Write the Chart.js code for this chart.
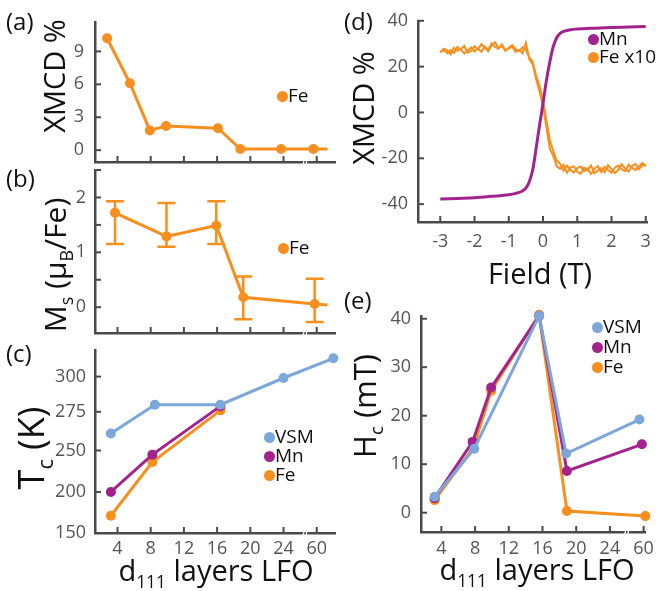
<!DOCTYPE html>
<html>
<head>
<meta charset="utf-8">
<script src="https://cdn.jsdelivr.net/npm/chart.js@4.4.0/dist/chart.umd.min.js"></script>
<style>
  body { margin: 0; background: #fff; }
  #fig { position: relative; width: 660px; height: 591px; overflow: hidden; font-family: "Open Sans", sans-serif; color: #111; }
  #fig canvas { position: absolute; left: 0; top: 0; }
  .lbl { position: absolute; font-size: 24px; line-height: 1; }
  .ytit { position: absolute; white-space: nowrap; line-height: 1; transform: translate(-50%, -50%) rotate(-90deg); }
  .xtit { position: absolute; white-space: nowrap; line-height: 1; font-size: 29px; transform: translate(-50%, 0); }
  sub { font-size: 60%; vertical-align: -0.4em; line-height: 0; }
  .dot { position: absolute; width: 11px; height: 11px; border-radius: 50%; }
  .leg { position: absolute; font-size: 19px; line-height: 1; white-space: nowrap; }
</style>
</head>
<body>
<div id="fig">
  <canvas id="cA" width="660" height="591"></canvas>
  <canvas id="cB" width="660" height="591"></canvas>
  <canvas id="cC" width="660" height="591"></canvas>
  <canvas id="cD" width="660" height="591"></canvas>
  <canvas id="cE" width="660" height="591"></canvas>

  <div class="lbl" style="left:6px;top:9px">(a)</div>
  <div class="lbl" style="left:6px;top:166px">(b)</div>
  <div class="lbl" style="left:6px;top:341px">(c)</div>
  <div class="lbl" style="left:344px;top:9px">(d)</div>
  <div class="lbl" style="left:344px;top:288px">(e)</div>

  <div class="ytit" style="left:53px;top:76px;font-size:29px">XMCD %</div>
  <div class="ytit" style="left:55px;top:265px;font-size:30px">M<sub>s</sub> (μ<sub>B</sub>/Fe)</div>
  <div class="ytit" style="left:31px;top:448px;font-size:36px">T<sub>c</sub> (K)</div>
  <div class="ytit" style="left:362px;top:108px;font-size:29px">XMCD %</div>
  <div class="ytit" style="left:364px;top:406px;font-size:31px">H<sub>c</sub> (mT)</div>

  <div class="xtit" style="left:216px;top:555px">d<sub>111</sub> layers LFO</div>
  <div class="xtit" style="left:540px;top:258px">Field (T)</div>
  <div class="xtit" style="left:537px;top:554px">d<sub>111</sub> layers LFO</div>
</div>

<script>
// ---------- dados ----------
const corFe = "#F78F1E";
const corMn = "#A3238E";
const corVsm = "#7BA7D9";
const corEixo = "#4a4a4a";
const corTick = "#555555";

// eixo de camadas (quebrado entre 24 e 60)
const camadasTicks = [4, 8, 12, 16, 20, 24, 28];
const camadasLabels = ["4", "8", "12", "16", "20", "24", "60"];

// (a) XMCD Fe
const layersA = [2.75, 5.5, 7.9, 9.85, 16.1, 18.8, 23.7, 27.6, 29.3];
const xmcdFe = [10.2, 6.1, 1.8, 2.2, 2.0, 0.1, 0.1, 0.1, 0.1];

// (b) Ms Fe com barras de erro
const layersB = [3.7, 9.9, 15.9, 19.15, 27.75, 29.3];
const msFe = [1.72, 1.29, 1.49, 0.18, 0.06, 0.04];
const msHi = [1.93, 1.9, 1.93, 0.56, 0.52];
const msLo = [1.15, 1.1, 1.15, -0.22, -0.27];

// (c) Tc
const tcTicks = [150, 200, 250, 275, 300];
const tcTickPos = [0, 1.05, 2.11, 3.1, 4];
const layersTcVsm = [3.2, 8.5, 16.4, 24.0, 30.0];
const tcVsm = [261, 280, 280, 299, 313];
const layersTcEl = [3.2, 8.2, 16.4];
const tcMn = [200, 245, 279];
const tcFe = [171, 236, 276];

// (d) lacos XMCD vs campo
const campoMn = [-3.0, -2.5, -2.0, -1.5, -1.0, -0.8, -0.6, -0.5, -0.4, -0.3, -0.2, -0.1, 0, 0.1, 0.2, 0.3, 0.4, 0.5, 0.6, 0.8, 1.0, 1.5, 2.0, 2.5, 3.0];
const xmcdMn = [-37.8, -37.5, -37.2, -36.6, -35.9, -35.3, -34.3, -33.0, -30.2, -25.0, -15.5, -5.5, 4.0, 14.0, 22.2, 28.8, 32.6, 34.5, 35.4, 36.1, 36.4, 36.8, 37.1, 37.3, 37.5];

const campoSubida = [-3.0, -2.9, -2.8, -2.7, -2.6, -2.5, -2.4, -2.3, -2.2, -2.1, -2.0, -1.9, -1.8, -1.7, -1.6, -1.5, -1.4, -1.3, -1.2, -1.1, -1.0, -0.9, -0.8, -0.7, -0.6, -0.5, -0.4, -0.3, -0.2, -0.1, 0.0, 0.1, 0.2, 0.3, 0.4, 0.5, 0.6, 0.7, 0.8, 0.9, 1.0, 1.1, 1.2, 1.3, 1.4, 1.5, 1.6, 1.7, 1.8, 1.9, 2.0, 2.1, 2.2, 2.3, 2.4, 2.5, 2.6, 2.7, 2.8, 2.9, 3.0];
const feSubida = [26.2, 27.8, 27.1, 25.4, 28.2, 26.9, 27.6, 29.0, 26.1, 26.8, 28.9, 27.5, 29.8, 28.3, 26.7, 29.3, 30.6, 28.1, 29.0, 27.2, 27.9, 28.8, 26.4, 27.3, 25.8, 30.4, 23.2, 21.0, 14.5, 9.0, 3.0, -6.5, -15.8, -19.0, -23.4, -24.6, -22.9, -26.3, -24.1, -23.5, -25.9, -26.7, -24.0, -25.2, -23.1, -26.5, -25.4, -24.3, -26.1, -23.0, -24.7, -26.4, -25.0, -22.6, -24.5, -25.8, -23.3, -22.4, -24.8, -23.1, -22.7];
const campoDescida = [3.0, 2.9, 2.8, 2.7, 2.6, 2.5, 2.4, 2.3, 2.2, 2.1, 2.0, 1.9, 1.8, 1.7, 1.6, 1.5, 1.4, 1.3, 1.2, 1.1, 1.0, 0.9, 0.8, 0.7, 0.6, 0.5, 0.4, 0.3, 0.2, 0.1, 0.0, -0.1, -0.2, -0.3, -0.4, -0.5, -0.6, -0.7, -0.8, -0.9, -1.0, -1.1, -1.2, -1.3, -1.4, -1.5, -1.6, -1.7, -1.8, -1.9, -2.0, -2.1, -2.2, -2.3, -2.4, -2.5, -2.6, -2.7, -2.8, -2.9, -3.0];
const feDescida = [-23.6, -22.0, -23.7, -25.1, -24.2, -22.8, -25.6, -24.9, -23.2, -24.0, -26.3, -25.1, -23.7, -26.0, -23.4, -24.6, -26.8, -24.4, -25.7, -23.6, -24.3, -26.2, -25.0, -23.1, -25.3, -22.4, -21.0, -16.8, -12.0, -3.5, 5.2, 11.5, 16.0, 22.0, 24.0, 27.3, 28.4, 26.8, 27.6, 29.4, 28.2, 26.9, 29.7, 27.8, 28.6, 30.1, 27.4, 28.8, 26.5, 27.9, 26.6, 28.4, 27.0, 25.7, 27.5, 28.6, 26.0, 27.2, 25.9, 27.4, 26.3];

// (e) Hc
const layersHcVsm = [3.2, 7.9, 15.6, 18.8, 27.5];
const hcVsm = [3.3, 13.2, 40.6, 12.2, 19.2];
const layersHcMn = [3.2, 7.7, 9.9, 15.6, 18.9, 27.8];
const hcMn = [3.0, 14.6, 25.8, 40.6, 8.6, 14.1];
const layersHcFe = [3.2, 7.8, 9.9, 15.6, 18.9, 28.2];
const hcFe = [2.6, 13.4, 25.1, 40.8, 0.35, -0.7];

// ---------- helpers ----------
const LARG_Y = 60;   // caixa do eixo y (os rotulos sao recortados nela)
const ALT_X = 40;    // caixa do eixo x

function pts(xs, ys) {
  return xs.map((v, i) => ({ x: v, y: ys[i] }));
}

// posicao no eixo de Tc (rotulos nao lineares)
function tcPos(v) {
  for (let i = 1; i < tcTicks.length; i++) {
    if (v <= tcTicks[i] || i === tcTicks.length - 1) {
      let f = (v - tcTicks[i - 1]) / (tcTicks[i] - tcTicks[i - 1]);
      return tcTickPos[i - 1] + f * (tcTickPos[i] - tcTickPos[i - 1]);
    }
  }
}

function serie(xs, ys, cor, extra) {
  return Object.assign({
    data: pts(xs, ys),
    showLine: true,
    borderColor: cor,
    backgroundColor: cor,
    pointBackgroundColor: cor,
    borderWidth: 3,
    pointRadius: 5,
    pointBorderWidth: 0,
    clip: false
  }, extra || {});
}

function eixo(cfg, horizontal) {
  return {
    type: "linear",
    min: cfg.min,
    max: cfg.max,
    afterBuildTicks: (s) => { s.ticks = cfg.ticks.map((v) => ({ value: v })); },
    afterFit: (s) => { if (horizontal) s.height = ALT_X; else s.width = LARG_Y; },
    grid: { display: false, drawTicks: false },
    border: { display: true, color: corEixo, width: 2.5 },
    ticks: {
      display: cfg.labels !== null,
      padding: cfg.pad,
      color: corTick,
      font: { family: "Open Sans", size: 18 },
      maxRotation: 0,
      autoSkip: false,
      callback: (v, i) => (cfg.labels ? cfg.labels[i] : v)
    }
  };
}

// ticks para dentro + marca de quebra no eixo x
function ticksDentro(quebra) {
  return {
    id: "ticksDentro",
    beforeDatasetsDraw(chart) {
      const ctx = chart.ctx;
      const a = chart.chartArea;
      const sx = chart.scales.x;
      const sy = chart.scales.y;
      ctx.save();
      ctx.strokeStyle = corEixo;
      ctx.lineWidth = 2;
      sx.ticks.forEach((t) => {
        let px = sx.getPixelForValue(t.value);
        ctx.beginPath(); ctx.moveTo(px, a.bottom); ctx.lineTo(px, a.bottom - 6); ctx.stroke();
      });
      sy.ticks.forEach((t) => {
        let py = sy.getPixelForValue(t.value);
        ctx.beginPath(); ctx.moveTo(a.left, py); ctx.lineTo(a.left + 6, py); ctx.stroke();
      });
      if (quebra != null) {
        let px = sx.getPixelForValue(quebra);
        ctx.strokeStyle = "#ffffff";
        ctx.lineWidth = 1.2;
        [-1.5, 1.5].forEach((d) => {
          ctx.beginPath(); ctx.moveTo(px + d - 1, a.bottom + 4); ctx.lineTo(px + d + 1, a.bottom - 4); ctx.stroke();
        });
      }
      ctx.restore();
    }
  };
}

const barrasErro = {
  id: "barrasErro",
  afterDatasetsDraw(chart) {
    const ctx = chart.ctx;
    const sx = chart.scales.x;
    const sy = chart.scales.y;
    ctx.save();
    ctx.strokeStyle = corFe;
    ctx.lineWidth = 2.5;
    msHi.forEach((hi, i) => {
      let px = sx.getPixelForValue(layersB[i]);
      let top = sy.getPixelForValue(hi);
      let bot = sy.getPixelForValue(msLo[i]);
      ctx.beginPath();
      ctx.moveTo(px, top); ctx.lineTo(px, bot);
      ctx.moveTo(px - 9, top); ctx.lineTo(px + 9, top);
      ctx.moveTo(px - 9, bot); ctx.lineTo(px + 9, bot);
      ctx.stroke();
    });
    ctx.restore();
  }
};

function painel(id, area, xCfg, yCfg, datasets, plugins) {
  return new Chart(document.getElementById(id), {
    type: "scatter",
    data: { datasets: datasets },
    options: {
      responsive: false,
      animation: false,
      events: [],
      layout: { padding: { left: area.l - LARG_Y, top: area.t, right: 660 - area.r, bottom: 591 - area.b - ALT_X } },
      plugins: { legend: { display: false }, tooltip: { enabled: false } },
      scales: { x: eixo(xCfg, true), y: eixo(yCfg, false) }
    },
    plugins: plugins
  });
}

function legenda(itens) {
  const fig = document.getElementById("fig");
  itens.forEach((it) => {
    let d = document.createElement("div");
    d.className = "dot";
    d.style.background = it.cor;
    d.style.left = (it.x - 5.5) + "px";
    d.style.top = (it.y - 5.5) + "px";
    fig.appendChild(d);
    let t = document.createElement("div");
    t.className = "leg";
    t.textContent = it.txt;
    t.style.left = (it.x + 6) + "px";
    t.style.top = (it.y - 10) + "px";
    fig.appendChild(t);
  });
}

// ---------- paineis ----------
const xEsq = { min: 1.29, max: 30.2, ticks: camadasTicks, labels: null, pad: 3 };

// (a)
painel("cA", { l: 95, t: 20, r: 335, b: 162 }, xEsq,
  { min: -1.08, max: 11.7, ticks: [0, 3, 6, 9], labels: ["0", "3", "6", "9"], pad: 11 },
  [serie(layersA, xmcdFe, corFe, { pointRadius: [5, 5, 5, 5, 5, 5, 5, 5, 0] })],
  [ticksDentro(26.6)]);

// (b)
painel("cB", { l: 95, t: 170, r: 335, b: 333 }, xEsq,
  { min: -0.47, max: 2.5, ticks: [0, 0.5, 1, 1.5, 2, 2.5], labels: ["0", "", "1", "", "2", ""], pad: 9 },
  [serie(layersB, msFe, corFe, { pointRadius: [5, 5, 5, 5, 5, 0] })],
  [ticksDentro(26.6), barrasErro]);

// (c)
painel("cC", { l: 95, t: 350, r: 335, b: 533 },
  { min: 1.29, max: 30.2, ticks: camadasTicks, labels: camadasLabels, pad: 5 },
  { min: 0, max: 4.68, ticks: tcTickPos, labels: tcTicks.map(String), pad: 9 },
  [
    serie(layersTcVsm, tcVsm.map(tcPos), corVsm),
    serie(layersTcEl, tcMn.map(tcPos), corMn),
    serie(layersTcEl, tcFe.map(tcPos), corFe)
  ],
  [ticksDentro(26.6)]);

// (d)
painel("cD", { l: 418, t: 10, r: 648, b: 222 },
  { min: -3.65, max: 3.05, ticks: [-3, -2, -1, 0, 1, 2, 3], labels: ["-3", "-2", "-1", "0", "1", "2", "3"], pad: 9 },
  { min: -47.8, max: 40, ticks: [-40, -20, 0, 20, 40], labels: ["-40", "-20", "0", "20", "40"], pad: 10 },
  [
    serie(campoMn, xmcdMn, corMn, { pointRadius: 0, borderWidth: 3, cubicInterpolationMode: "monotone" }),
    serie(campoSubida, feSubida, corFe, { pointRadius: 0, borderWidth: 2 }),
    serie(campoDescida, feDescida, corFe, { pointRadius: 0, borderWidth: 2 })
  ],
  [ticksDentro(null)]);

// (e)
painel("cE", { l: 421, t: 316, r: 648, b: 532 },
  { min: 1.58, max: 28.2, ticks: camadasTicks, labels: camadasLabels, pad: 6 },
  { min: -3.98, max: 40.56, ticks: [0, 10, 20, 30, 40], labels: ["0", "10", "20", "30", "40"], pad: 10 },
  [
    serie(layersHcVsm, hcVsm, corVsm),
    serie(layersHcMn, hcMn, corMn),
    serie(layersHcFe, hcFe, corFe)
  ],
  [ticksDentro(26.0)]);

legenda([
  { txt: "Fe", cor: corFe, x: 282, y: 96 },
  { txt: "Fe", cor: corFe, x: 283, y: 248 },
  { txt: "VSM", cor: corVsm, x: 269, y: 437 },
  { txt: "Mn", cor: corMn, x: 269, y: 456 },
  { txt: "Fe", cor: corFe, x: 269, y: 475 },
  { txt: "Mn", cor: corMn, x: 593, y: 39 },
  { txt: "Fe x10", cor: corFe, x: 593, y: 57 },
  { txt: "VSM", cor: corVsm, x: 597, y: 327 },
  { txt: "Mn", cor: corMn, x: 597, y: 347 },
  { txt: "Fe", cor: corFe, x: 597, y: 367 }
]);
</script>
</body>
</html>
